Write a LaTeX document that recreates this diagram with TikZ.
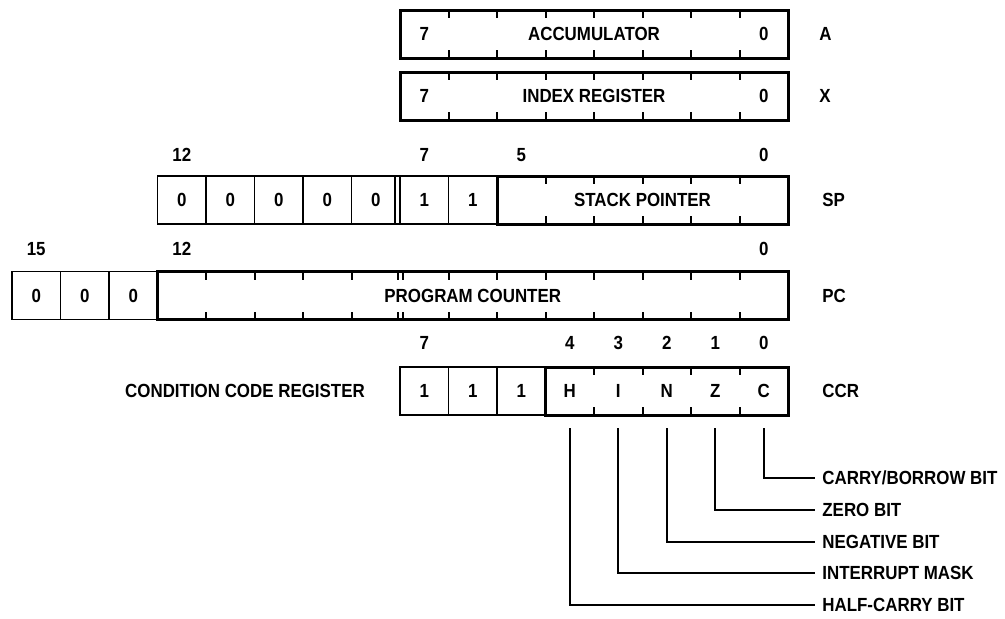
\documentclass[tikz,border=0pt]{standalone}
\usepackage{fontspec}
\newfontfamily\regfont{Liberation Sans}[FakeStretch=0.89]
\usetikzlibrary{positioning}

\newcommand{\cw}{24.25pt}

\begin{document}
\begin{tikzpicture}[x=0.5pt,y=-0.5pt,
	every node/.style={font=\regfont\bfseries\fontsize{9.5}{11}\selectfont},
	bitcell/.style={draw,line width=0.6pt,minimum width=\cw,minimum height=24pt,inner sep=0pt,outer sep=0pt},
	field/.style={draw,line width=1.5pt,minimum height=24pt,inner sep=0pt,outer sep=0pt},
	flag/.style={minimum width=\cw,minimum height=24pt,inner sep=0pt,outer sep=0pt},
	regname/.style={anchor=west,inner sep=0pt},
	bitlabel/.style={anchor=west,inner sep=3.5pt},
	tick/.style={line width=1pt},
	conn/.style={line width=0.9pt}]
	\fill[white] (0,0) rectangle (1005,616);
	
	% accumulator and index register
	\node[field,minimum width=194pt] (acc) at (594,34) {ACCUMULATOR};
	\node (acc7) at (424.25,34) {7};
	\node (acc0) at (763.75,34) {0};
	\node[regname] (nameA) at (819,34) {A};
	\node[field,minimum width=194pt] (idx) at (594,96) {INDEX REGISTER};
	\node (idx7) at (424.25,96) {7};
	\node (idx0) at (763.75,96) {0};
	\node[regname] (nameX) at (819,96) {X};
	\foreach \k in {1,...,7}
		\draw[tick] ([xshift=\k*\cw]acc.north west) -- ++(0,8)
		([xshift=\k*\cw]acc.south west) -- ++(0,-8)
		([xshift=\k*\cw]idx.north west) -- ++(0,8)
		([xshift=\k*\cw]idx.south west) -- ++(0,-8);
	
	% stack pointer
	\node (sp12n) at (181.75,155) {12};
	\node (sp7n) at (424.25,155) {7};
	\node (sp5n) at (521.25,155) {5};
	\node (sp0n) at (763.75,155) {0};
	\node[bitcell] (sp12) at (181.75,200) {0};
	\node[bitcell,right=0pt of sp12] (sp11) {0};
	\node[bitcell,right=0pt of sp11] (sp10) {0};
	\node[bitcell,right=0pt of sp10] (sp9) {0};
	\node[bitcell,right=0pt of sp9] (sp8) {0};
	\node[bitcell,right=0pt of sp8] (sp7) {1};
	\node[bitcell,right=0pt of sp7] (sp6) {1};
	\draw[line width=0.6pt] ([xshift=-2.5pt]sp8.north east) -- ([xshift=-2.5pt]sp8.south east);
	\node[field,minimum width=145.5pt,right=0pt of sp6] (stack) {STACK POINTER};
	\node[regname] (nameSP) at (822,200) {SP};
	\foreach \k in {1,...,5}
		\draw[tick] ([xshift=\k*\cw]stack.north west) -- ++(0,8)
		([xshift=\k*\cw]stack.south west) -- ++(0,-8);
	
	% program counter
	\node (pc15n) at (36.25,249) {15};
	\node (pc12n) at (181.75,249) {12};
	\node (pc0n) at (763.75,249) {0};
	\node[bitcell] (pc15) at (36.25,295.5) {0};
	\node[bitcell,right=0pt of pc15] (pc14) {0};
	\node[bitcell,right=0pt of pc14] (pc13) {0};
	\node[field,minimum width=315.25pt,right=0pt of pc13] (prog) {PROGRAM COUNTER};
	\node[regname] (namePC) at (822,296) {PC};
	\foreach \k in {1,2,3,4,6,7,8,9,10,11,12}
		\draw[tick] ([xshift=\k*\cw]prog.north west) -- ++(0,8)
		([xshift=\k*\cw]prog.south west) -- ++(0,-8);
	\foreach \d in {-1.25pt,1.25pt}
		\draw[tick] ([xshift=5*\cw+\d]prog.north west) -- ++(0,8)
		([xshift=5*\cw+\d]prog.south west) -- ++(0,-8);
	
	% condition code register
	\node (ccr7n) at (424.25,343) {7};
	\node (ccr4n) at (569.75,343) {4};
	\node (ccr3n) at (618.25,343) {3};
	\node (ccr2n) at (666.75,343) {2};
	\node (ccr1n) at (715.25,343) {1};
	\node (ccr0n) at (763.75,343) {0};
	\node (ccrtitle) at (245,391) {CONDITION CODE REGISTER};
	\node[bitcell] (cc7) at (424.25,391) {1};
	\node[bitcell,right=0pt of cc7] (cc6) {1};
	\node[bitcell,right=0pt of cc6] (cc5) {1};
	\node[field,minimum width=121.25pt,right=0pt of cc5] (flags) {};
	\node[flag,anchor=west] (fH) at (flags.west) {H};
	\node[flag,right=0pt of fH] (fI) {I};
	\node[flag,right=0pt of fI] (fN) {N};
	\node[flag,right=0pt of fN] (fZ) {Z};
	\node[flag,right=0pt of fZ] (fC) {C};
	\node[regname] (nameCCR) at (822,391) {CCR};
	\foreach \k in {1,...,4}
		\draw[tick] ([xshift=\k*\cw]flags.north west) -- ++(0,8)
		([xshift=\k*\cw]flags.south west) -- ++(0,-8);
	
	\node[bitlabel] (cbit) at (815,478) {CARRY/BORROW BIT};
	\node[bitlabel] (zbit) at (815,510) {ZERO BIT};
	\node[bitlabel] (nbit) at (815,542) {NEGATIVE BIT};
	\node[bitlabel] (ibit) at (815,573) {INTERRUPT MASK};
	\node[bitlabel] (hbit) at (815,605) {HALF-CARRY BIT};
	
	\draw[conn] ([yshift=-6.5pt]fC.south) |- (cbit.west);
	\draw[conn] ([yshift=-6.5pt]fZ.south) |- (zbit.west);
	\draw[conn] ([yshift=-6.5pt]fN.south) |- (nbit.west);
	\draw[conn] ([yshift=-6.5pt]fI.south) |- (ibit.west);
	\draw[conn] ([yshift=-6.5pt]fH.south) |- (hbit.west);
\end{tikzpicture}
\end{document}
